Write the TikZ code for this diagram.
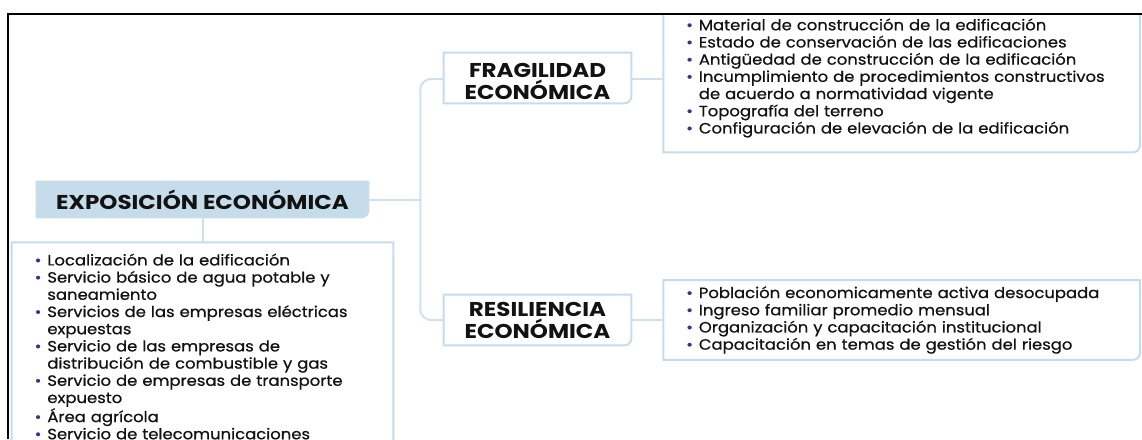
\documentclass[tikz,border=0pt]{standalone}
\usepackage{fontspec}
\setmainfont{Poppins}
\newfontfamily\itemfont[FakeStretch=1.1, FakeBold=0.7]{Poppins}
\newfontfamily\headfont[FakeStretch=1.15]{Poppins}
\usetikzlibrary{positioning,backgrounds}
\definecolor{boxblue}{HTML}{C6DCEC}
\definecolor{headfill}{HTML}{C7DCEA}
\definecolor{linkblue}{HTML}{CFE1EE}
\definecolor{dotblue}{HTML}{2B3A8C}
\definecolor{inktext}{HTML}{121212}
\newcommand{\itm}{\hspace*{8pt}\makebox[0.85em][l]{\textcolor{dotblue}{\textbullet}}}
\newcommand{\cnt}{\hspace*{8pt}\hspace*{0.85em}}
% box with one round corner (bottom right)
\newcommand{\cornerbox}[2][]{\draw[boxline,#1] (#2.north west) -- (#2.north east) [rounded corners=5pt] -- (#2.south east) [sharp corners] -- (#2.south west) -- cycle;}
\begin{document}
\begin{tikzpicture}[x=0.75pt, y=-0.75pt, text=inktext,
  head/.style = {font=\headfont\bfseries\fontsize{15}{16}\selectfont, minimum width=248.25pt, minimum height=26.25pt, inner sep=0pt},
  branch/.style = {font=\headfont\bfseries\fontsize{15}{16.5}\selectfont, align=center, minimum width=140.25pt, minimum height=37.5pt, inner sep=0pt},
  items/.style = {font=\itemfont\fontsize{11.2}{12.9}\selectfont, align=left, inner xsep=9pt, inner ysep=0pt},
  boxline/.style = {draw=boxblue, line width=1.5pt},
  link/.style = {draw=linkblue, line width=1.5pt},
  frame/.style = {draw=black, line width=1.5pt}]
  \useasboundingbox (0,0) rectangle (1142,439);
  \coordinate (topedge) at (0,14);
  \node[head] (expo) at (202.5,199.5) {EXPOSICIÓN ECONÓMICA};
  \node[items, text width=267.75pt, minimum height=156pt] (bienes) [below=18.75pt of expo]
    {\itm Localización de la edificación\\
     \itm Servicio básico de agua potable y\\ \cnt saneamiento\\
     \itm Servicios de las empresas eléctricas\\ \cnt expuestas\\
     \itm Servicio de las empresas de\\ \cnt distribución de combustible y gas\\
     \itm Servicio de empresas de transporte\\ \cnt expuesto\\
     \itm Área agrícola\\
     \itm Servicio de telecomunicaciones};
  \node[branch] (frag) at (537.5,81) {FRAGILIDAD\\ECONÓMICA};
  \node[items, text width=339pt, minimum height=111pt] (fragitems) [right=24pt of frag, yshift=2.25pt]
    {\itm Material de construcción de la edificación\\
     \itm Estado de conservación de las edificaciones\\
     \itm Antigüedad de construcción de la edificación\\
     \itm Incumplimiento de procedimientos constructivos\\ \cnt de acuerdo a normatividad vigente\\
     \itm Topografía del terreno\\
     \itm Configuración de elevación de la edificación};
  \node[branch] (res) at (537.5,320) {RESILIENCIA\\ECONÓMICA};
  \node[items, text width=339pt, minimum height=59.25pt] (resitems) [right=24pt of res]
    {\itm Población economicamente activa desocupada\\
     \itm Ingreso familiar promedio mensual\\
     \itm Organización y capacitación institucional\\
     \itm Capacitación en temas de gestión del riesgo};
  \coordinate[right=39pt of expo] (trunk);
  % boxes
  \begin{scope}[on background layer]
    \cornerbox[fill=headfill, draw=headfill]{expo}
  \end{scope}
  \cornerbox{bienes}
  \cornerbox[transform canvas={yshift=2.25pt}]{frag}
  \cornerbox{res}
  \cornerbox{resitems}
  \draw[boxline] (fragitems.north west |- topedge) -- (fragitems.south west) [rounded corners=5pt] -- (fragitems.south east) [sharp corners] -- (fragitems.north east |- topedge);
  % connectors
  \draw[link] (expo) -- (trunk);
  \draw[link, rounded corners=8pt] ([yshift=1.5pt]frag.west) -| (trunk) |- (res);
  \draw[link] (expo) -- (bienes);
  \draw[link] ([yshift=1.5pt]frag.east) -- ([yshift=1.5pt]frag.east -| fragitems.west);
  \draw[link] (res) -- (resitems);
  \draw[frame] (8,439) |- (1142,14);
\end{tikzpicture}
\end{document}
